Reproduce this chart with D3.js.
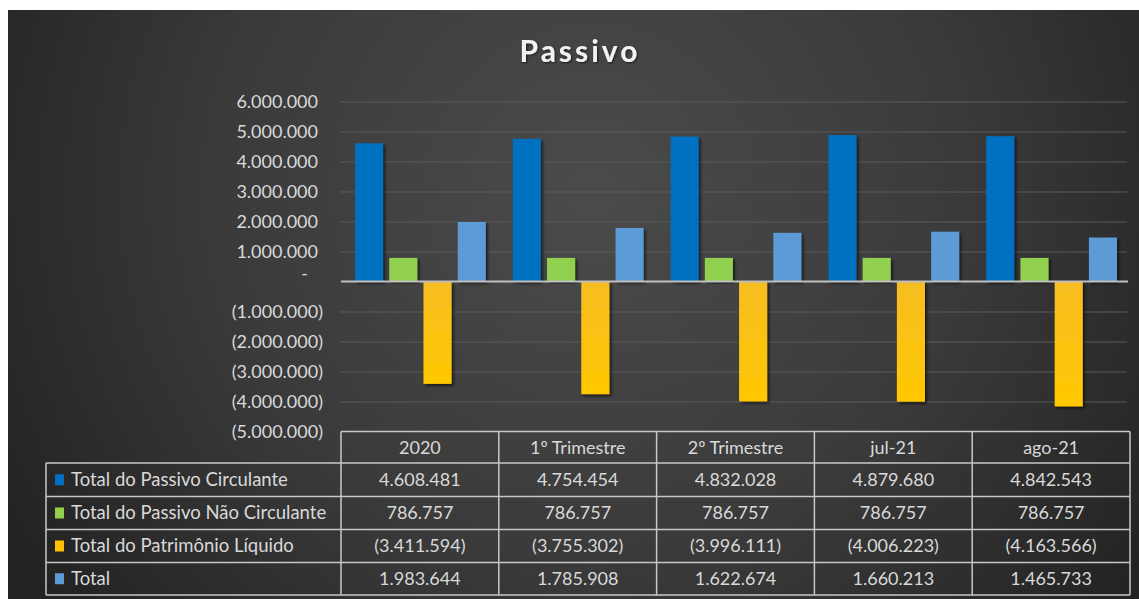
<!DOCTYPE html>
<html>
<head>
<meta charset="utf-8">
<script src="https://cdn.jsdelivr.net/npm/d3@7"></script>
<style>
  body { margin: 0; background: #fff; }
  svg { display: block; }
</style>
</head>
<body>
<div id="chart"></div>
<script>
// data
var categories = ["2020", "1º Trimestre", "2º Trimestre", "jul-21", "ago-21"];
var seriesNames = ["Total do Passivo Circulante", "Total do Passivo Não Circulante", "Total do Patrimônio Líquido", "Total"];
var passivoCirculante = [4608481, 4754454, 4832028, 4879680, 4842543];
var passivoNaoCirculante = [786757, 786757, 786757, 786757, 786757];
var patrimonioLiquido = [-3411594, -3755302, -3996111, -4006223, -4163566];
var total = [1983644, 1785908, 1622674, 1660213, 1465733];
var yTicks = [6000000, 5000000, 4000000, 3000000, 2000000, 1000000, 0, -1000000, -2000000, -3000000, -4000000, -5000000];

var seriesValues = [passivoCirculante, passivoNaoCirculante, patrimonioLiquido, total];
var colors = ["#0070c0", "#92d050", "url(#yellowGrad)", "#5b9bd5"];
var keyColors = ["#0070c0", "#92d050", "#ffc000", "#5b9bd5"];

var W = 1139, H = 599;
var plotLeft = 341, plotRight = 1130, plotTop = 101.5, plotBottom = 431.5;
var tableLeft = 46;
var rowTops = [463, 496.5, 529.5, 562.5, 595];

var br = d3.formatLocale({ decimal: ",", thousands: ".", grouping: [3], currency: ["R$", ""] });
var fmt = br.format(",.0f");
function acct(v) {
  if (v === 0) return "-";
  return v < 0 ? "(" + fmt(-v) + ")" : fmt(v);
}

var svg = d3.select("#chart").append("svg")
  .attr("width", W)
  .attr("height", H);

var defs = svg.append("defs");
var bg = defs.append("radialGradient")
  .attr("id", "bgGrad")
  .attr("gradientUnits", "userSpaceOnUse")
  .attr("cx", 590).attr("cy", 190).attr("r", 680);
bg.append("stop").attr("offset", "0%").attr("stop-color", "#4b4b4b");
bg.append("stop").attr("offset", "55%").attr("stop-color", "#3a3a3a");
bg.append("stop").attr("offset", "100%").attr("stop-color", "#222222");

var yg = defs.append("linearGradient")
  .attr("id", "yellowGrad")
  .attr("x1", 0).attr("y1", 0).attr("x2", 0).attr("y2", 1);
yg.append("stop").attr("offset", "0%").attr("stop-color", "#f6bd22");
yg.append("stop").attr("offset", "100%").attr("stop-color", "#ffc800");

var shadow = defs.append("filter").attr("id", "shadow")
  .attr("x", "-30%").attr("y", "-10%").attr("width", "160%").attr("height", "120%");
shadow.append("feDropShadow")
  .attr("dx", 2).attr("dy", 2).attr("stdDeviation", 1.5)
  .attr("flood-color", "#000").attr("flood-opacity", 0.6);

var txtShadow = defs.append("filter").attr("id", "txtShadow");
txtShadow.append("feDropShadow")
  .attr("dx", 1).attr("dy", 1).attr("stdDeviation", 1)
  .attr("flood-color", "#000").attr("flood-opacity", 0.6);

svg.append("rect")
  .attr("x", 8).attr("y", 10)
  .attr("width", W - 8).attr("height", H - 10)
  .attr("fill", "url(#bgGrad)");

// title
svg.append("text")
  .attr("x", 580)
  .attr("y", 62)
  .attr("text-anchor", "middle")
  .attr("font-family", "Lato, 'Open Sans', sans-serif")
  .attr("font-weight", "bold")
  .attr("font-size", "30px")
  .attr("letter-spacing", "3px")
  .attr("fill", "#f2f2f2")
  .attr("filter", "url(#txtShadow)")
  .text("Passivo");

var x0 = d3.scaleBand()
  .domain(categories)
  .range([plotLeft, plotRight])
  .padding(0);

var x1 = d3.scaleBand()
  .domain(d3.range(seriesNames.length))
  .range([14, x0.bandwidth() - 13])
  .paddingInner(0.18);

var y = d3.scaleLinear()
  .domain([-5000000, 6000000])
  .range([plotBottom, plotTop]);

// gridlines
var grid = svg.append("g")
  .attr("transform", "translate(" + plotLeft + ",0)")
  .call(d3.axisLeft(y).tickValues(yTicks.filter(function(d) { return d !== 0 && d !== -5000000; }))
    .tickSize(-(plotRight - plotLeft - 2)).tickFormat(""));
grid.select(".domain").remove();
grid.selectAll("line").attr("stroke", "#5a5a5a").attr("stroke-width", 1.2)
  .attr("transform", "translate(-1,0)");

// y labels
var yAxis = svg.append("g")
  .attr("transform", "translate(318,0)")
  .call(d3.axisLeft(y).tickValues(yTicks).tickSize(0).tickPadding(0).tickFormat(acct));
yAxis.select(".domain").remove();
yAxis.selectAll("text")
  .attr("font-family", "Lato, sans-serif")
  .attr("font-size", "18px")
  .attr("fill", "#d9d9d9")
  .attr("dx", function(d) { return d < 0 ? 5 : (d === 0 ? -10 : 0); })
  .attr("dy", function(d) { return d === 0 ? "-0.1em" : "0.32em"; });

// bars
var groups = svg.selectAll(".cat")
  .data(categories)
  .enter().append("g")
  .attr("class", "cat")
  .attr("transform", function(d) { return "translate(" + x0(d) + ",0)"; });

groups.selectAll("rect")
  .data(function(d, ci) {
    return seriesValues.map(function(vals, si) { return { si: si, v: vals[ci] }; });
  })
  .enter().append("rect")
  .attr("x", function(d) { return x1(d.si); })
  .attr("width", x1.bandwidth())
  .attr("y", function(d) { return y(Math.max(0, d.v)); })
  .attr("height", function(d) { return Math.abs(y(d.v) - y(0)); })
  .attr("fill", function(d) { return colors[d.si]; })
  .attr("filter", "url(#shadow)");

// zero line
svg.append("line")
  .attr("x1", plotLeft).attr("x2", plotRight - 2)
  .attr("y1", y(0)).attr("y2", y(0))
  .attr("stroke", "#bfbfbf")
  .attr("stroke-width", 2);

// data table
var table = svg.append("g");
var lineColor = "#c8c8c8";

// header row
table.selectAll(".hdr")
  .data(categories)
  .enter().append("text")
  .attr("x", function(d) { return x0(d) + x0.bandwidth() / 2; })
  .attr("y", (plotBottom + rowTops[0]) / 2)
  .attr("dy", "0.35em")
  .attr("text-anchor", "middle")
  .attr("font-family", "Lato, sans-serif")
  .attr("font-size", "18px")
  .attr("fill", "#d9d9d9")
  .text(function(d) { return d; });

// horizontal lines
table.append("line")
  .attr("x1", plotLeft).attr("x2", plotRight)
  .attr("y1", plotBottom).attr("y2", plotBottom);
table.selectAll(".hline")
  .data(rowTops)
  .enter().append("line")
  .attr("x1", tableLeft).attr("x2", plotRight)
  .attr("y1", function(d) { return d; }).attr("y2", function(d) { return d; });

// vertical lines
table.append("line")
  .attr("x1", tableLeft).attr("x2", tableLeft)
  .attr("y1", rowTops[0]).attr("y2", rowTops[4]);
table.selectAll(".vline")
  .data(categories.concat(["end"]))
  .enter().append("line")
  .attr("x1", function(d) { return d === "end" ? plotRight : x0(d); })
  .attr("x2", function(d) { return d === "end" ? plotRight : x0(d); })
  .attr("y1", plotBottom).attr("y2", rowTops[4]);

table.selectAll("line")
  .attr("stroke", lineColor)
  .attr("stroke-width", 1.5);

var rows = table.selectAll(".row")
  .data(seriesNames)
  .enter().append("g")
  .attr("class", "row")
  .attr("transform", function(d, i) { return "translate(0," + (rowTops[i] + rowTops[i + 1]) / 2 + ")"; });

rows.append("rect")
  .attr("x", 55).attr("y", -5.5)
  .attr("width", 9).attr("height", 11)
  .attr("fill", function(d, i) { return keyColors[i]; });

rows.append("text")
  .attr("x", 71)
  .attr("dy", "0.35em")
  .attr("font-family", "Lato, sans-serif")
  .attr("font-size", "18.5px")
  .attr("fill", "#d9d9d9")
  .text(function(d) { return d; });

rows.each(function(name, si) {
  d3.select(this).selectAll(".val")
    .data(seriesValues[si])
    .enter().append("text")
    .attr("x", function(d, ci) { return x0(categories[ci]) + x0.bandwidth() / 2; })
    .attr("dy", "0.35em")
    .attr("text-anchor", "middle")
    .attr("font-family", "Lato, sans-serif")
    .attr("font-size", "18px")
    .attr("fill", "#d9d9d9")
    .text(acct);
});
</script>
</body>
</html>
